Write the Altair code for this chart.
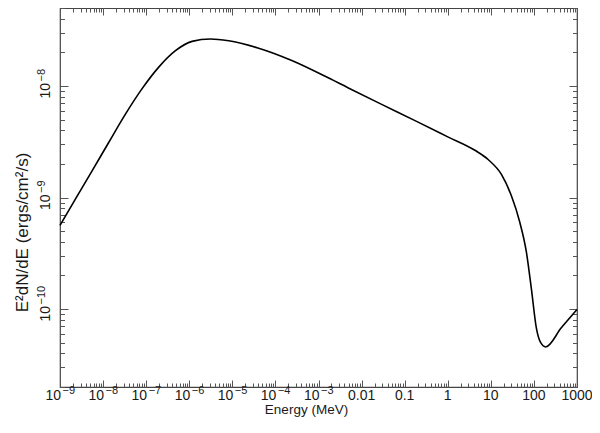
import altair as alt
import pandas as pd

# Spectrum (E in MeV, E^2 dN/dE in ergs/cm^2/s)
energy_mev = [1e-9, 2.31e-9, 5.60e-9, 1.36e-8, 3.33e-8, 8.05e-8, 1.96e-7, 4.79e-7,
              1.16e-6, 3.10e-6, 8.22e-6, 3.92e-5, 2.40e-4, 1.43e-3, 4.94e-3, 0.0292,
              0.174, 1.03, 4.26, 8.65, 17.6, 30.0, 47.0, 66.8, 87.1, 113.8, 143.9,
              187.9, 431.5, 1000.0]
flux = [5.62e-10, 9.77e-10, 1.74e-9, 3.13e-9, 5.62e-9, 9.46e-9, 1.476e-8, 2.07e-8,
        2.51e-8, 2.64e-8, 2.54e-8, 2.19e-8, 1.69e-8, 1.22e-8, 9.59e-9, 6.84e-9,
        4.89e-9, 3.48e-9, 2.65e-9, 2.19e-9, 1.61e-9, 1.035e-9, 6.0e-10, 3.25e-10,
        1.53e-10, 6.78e-11, 4.99e-11, 4.57e-11, 6.78e-11, 9.9e-11]

x_domain = [1e-9, 1000]
y_domain = [2e-11, 5e-8]

# tick labels
x_pow_values = [1e-9, 1e-8, 1e-7, 1e-6, 1e-5, 1e-4, 1e-3]
x_pow_exps = ["−9", "−8", "−7", "−6", "−5", "−4", "−3"]
x_plain_values = [0.01, 0.1, 1, 10, 100, 1000]
x_plain_labels = ["0.01", "0.1", "1", "10", "100", "1000"]
y_pow_values = [1e-10, 1e-9, 1e-8]
y_pow_exps = ["−10", "−9", "−8"]

x_major = x_pow_values + x_plain_values
y_major = y_pow_values
x_minor = [m * 10.0 ** k for k in range(-9, 3) for m in range(2, 10)]
y_minor = [m * 10.0 ** k for k in range(-11, -7) for m in range(2, 10)
           if y_domain[0] <= m * 10.0 ** k <= y_domain[1]]

df = pd.DataFrame({"E": energy_mev, "F": flux})
xpow_df = pd.DataFrame({"v": x_pow_values, "base": ["10"] * len(x_pow_values), "exp": x_pow_exps})
xplain_df = pd.DataFrame({"v": x_plain_values, "txt": x_plain_labels})
ypow_df = pd.DataFrame({"v": y_pow_values, "base": ["10"] * len(y_pow_values), "exp": y_pow_exps})

W, H = 517, 379
FONT = "Liberation Sans"
TXT = "#1a1a1a"
TICK = "#555555"
BASE_FS, EXP_FS = 14, 11

xs = alt.Scale(type="log", domain=x_domain, nice=False)
ys = alt.Scale(type="log", domain=y_domain, nice=False)

line = alt.Chart(df).mark_line(color="black", strokeWidth=1.6, interpolate="monotone").encode(
    x=alt.X("E:Q", scale=xs, axis=alt.Axis(
        orient="bottom", labels=False, ticks=False, domain=False, grid=False,
        title="Energy (MeV)", titleX=246, titleY=26.5, titleAlign="center",
        titleBaseline="alphabetic", titleFontSize=13.5, titleFont=FONT,
        titleColor=TXT, titleFontWeight="normal")),
    y=alt.Y("F:Q", scale=ys, axis=alt.Axis(
        orient="left", labels=False, ticks=False, domain=False, grid=False,
        title="E²dN/dE (ergs/cm²/s)", titleX=-32.5, titleY=224, titleAngle=270,
        titleAlign="center", titleBaseline="alphabetic", titleFontSize=17,
        titleFont=FONT, titleColor=TXT, titleFontWeight="normal")),
)


def tick_layer(x_orient, y_orient, xvals, yvals, xsize, ysize):
    return alt.Chart(df).mark_point(opacity=0).encode(
        x=alt.X("E:Q", scale=xs, axis=alt.Axis(
            orient=x_orient, offset=-H, values=xvals, labels=False, domain=False,
            grid=False, title=None, tickSize=xsize, tickColor=TICK, tickWidth=1)),
        y=alt.Y("F:Q", scale=ys, axis=alt.Axis(
            orient=y_orient, offset=-W, values=yvals, labels=False, domain=False,
            grid=False, title=None, tickSize=ysize, tickColor=TICK, tickWidth=1)),
    )


# x tick labels (10 with superscript exponent, and plain numbers)
x_base = alt.Chart(xpow_df).mark_text(
    align="right", baseline="alphabetic", dx=1, fontSize=BASE_FS, font=FONT, color=TXT
).encode(x=alt.X("v:Q", scale=xs, axis=None), y=alt.value(H + 12.5), text="base:N")
x_exp = alt.Chart(xpow_df).mark_text(
    align="left", baseline="alphabetic", dx=2.5, dy=-6, fontSize=EXP_FS, font=FONT, color=TXT
).encode(x=alt.X("v:Q", scale=xs, axis=None), y=alt.value(H + 12.5), text="exp:N")
x_plain = alt.Chart(xplain_df).mark_text(
    align="center", baseline="alphabetic", fontSize=BASE_FS, font=FONT, color=TXT
).encode(x=alt.X("v:Q", scale=xs, axis=None), y=alt.value(H + 12.5), text="txt:N")

# y tick labels, rotated
y_base = alt.Chart(ypow_df).mark_text(
    angle=270, align="right", baseline="alphabetic", dx=3, fontSize=BASE_FS, font=FONT, color=TXT
).encode(y=alt.Y("v:Q", scale=ys, axis=None), x=alt.value(-10), text="base:N")
y_exp = alt.Chart(ypow_df).mark_text(
    angle=270, align="left", baseline="alphabetic", dx=4.5, dy=-5.5, fontSize=EXP_FS, font=FONT, color=TXT
).encode(y=alt.Y("v:Q", scale=ys, axis=None), x=alt.value(-10), text="exp:N")

layers = [
    line,
    tick_layer("top", "right", x_major, y_major, 7, 8),      # bottom & left edges, major
    tick_layer("top", "right", x_minor, y_minor, 4, 4.5),    # bottom & left edges, minor
    tick_layer("bottom", "left", x_major, y_major, 7, 8),    # top & right edges, major
    tick_layer("bottom", "left", x_minor, y_minor, 4, 4.5),  # top & right edges, minor
    x_base, x_exp, x_plain, y_base, y_exp,
]

chart = alt.layer(*layers).resolve_scale(x="independent", y="independent").properties(
    width=W, height=H,
    autosize=alt.AutoSizeParams(type="none"),
    padding={"left": 52, "top": 0, "right": 15, "bottom": 38},
    background="white",
).configure_view(stroke="#444444", strokeWidth=1.2)

chart.save("out.html", embed_options={"renderer": "svg", "actions": False})
